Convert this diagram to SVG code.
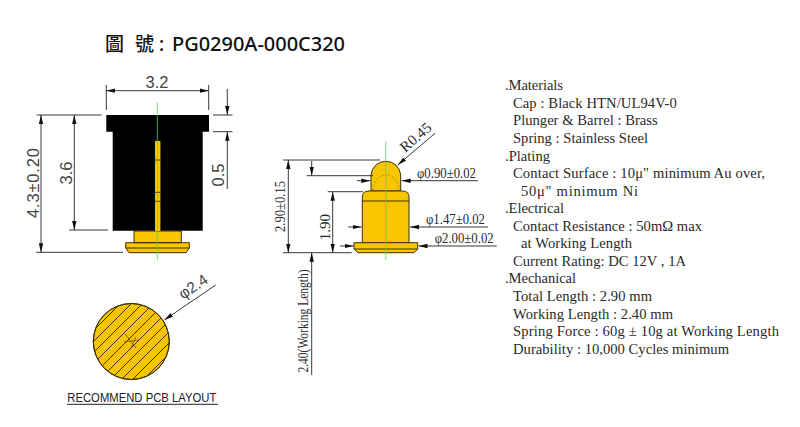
<svg xmlns="http://www.w3.org/2000/svg" width="800" height="427" viewBox="0 0 800 427">
<style>
.dim{stroke:#222;stroke-width:.9;fill:none}
.arr{marker-end:url(#a)}
.arr2{marker-start:url(#a);marker-end:url(#a)}
.gold{fill:#f7c600;stroke:#3d3000;stroke-width:1}
.thin{fill:none;stroke:#3d3000;stroke-width:1}
.ctr{stroke:#66cc66;stroke-width:.8;fill:none}
.cad{font-family:"Liberation Sans",Arial,sans-serif;fill:#444;font-size:16.5px}
.ser{font-family:"Liberation Serif","Times New Roman",serif;fill:#2a2a2a}
.spec{font-size:14.6px;white-space:pre}
.d{font-size:15px}
.title{font-family:"Noto Sans","Noto Sans CJK TC",sans-serif;font-weight:500;font-size:19px;fill:#111}
.cjk{font-family:"Noto Sans CJK TC",sans-serif;font-size:19px;font-weight:500;fill:#111}
</style>
<defs>
<marker id="a" markerUnits="userSpaceOnUse" markerWidth="10" markerHeight="6" refX="9" refY="3" orient="auto-start-reverse"><path d="M0 .8L9 3L0 5.2z" fill="#111"/></marker>
<clipPath id="c"><circle cx="131.3" cy="341.5" r="38"/></clipPath>
</defs>
<g id="title">
<text class="cjk" x="105" y="51">圖</text>
<text class="cjk" x="135" y="51">號</text>
<text class="title" x="159" y="51">:</text>
<text class="title" x="172" y="51" textLength="173" lengthAdjust="spacingAndGlyphs">PG0290A-000C320</text>
</g>
<g id="cap-part">
<path d="M134 231H181.3V242.7H134zM125.7 242.7H189.3V248L186 252.7H129L125.7 248z" class="gold"/>
<path d="M126 248H189" class="thin"/>
<path d="M106.3 115H209V131.7H202.7V230.7H112.7V131.7H106.3z" fill="#000"/>
<rect x="155" y="141" width="5.4" height="90" fill="#f7c600"/>
<path d="M155 160H160.4M155 192.3H160.4M155 201.3H160.4" stroke="#3d3000" stroke-width="1"/>
<path d="M157.3 102.7V260" class="ctr"/>
</g>
<g id="pin-part">
<path d="M371 191V175A14.9 15 0 0 1 400.7 175V191z" class="gold"/>
<path d="M373 190A13 15 0 0 1 399 190" fill="none" stroke="#7a6000" stroke-width=".6" stroke-dasharray="2 1.5"/>
<path d="M362.3 242.7V197Q362.3 191 369 191H402.5Q409 191 409 197V242.7z" class="gold"/>
<path d="M362.3 201H409" class="thin"/>
<path d="M354 242.7H417.7V249L414 252.7H358L354 249z" class="gold"/>
<path d="M354 249H417.7" class="thin"/>
<path d="M385.7 141.7V260" class="ctr"/>
</g>
<g id="pad">
<circle cx="131.3" cy="341.5" r="38" class="gold"/>
<g clip-path="url(#c)" class="thin">
<path d="M90 334L150 274M90 345L161 274M90 356L172 274M90 367L183 274M90 378L194 274M90 389L205 274M90 400L216 274M101 400L227 274M112 400L238 274M123 400L249 274M134 400L260 274"/>
</g>
<path d="M125 334L136 348M124 342L139 340M131 348L136 337" stroke="#3d3000" stroke-width=".6" fill="none"/>
<circle cx="131.3" cy="341.5" r="38" fill="none" stroke="#3d3000" stroke-width="1"/>
</g>
<g id="connectors">
<path class="dim" d="M106.3 85V110M208.7 85V110"/>
<path class="dim arr2" d="M106.3 90.7H208.7"/>
<path class="dim" d="M213 115H232.5M213 131.7H232.5"/>
<path class="dim arr" d="M227.3 89V115"/>
<path class="dim arr" d="M227.3 189V131.7"/>
<path class="dim" d="M36.7 115H101.7M69 230H108M36 252.3H123"/>
<path class="dim arr2" d="M74.3 115V230"/>
<path class="dim arr2" d="M41 115V252.3"/>
<path class="dim" d="M283 160H380M283 252.7H351.7M327.7 191.7H363M306.7 175.7H373"/>
<path class="dim arr2" d="M288.3 160V252.7"/>
<path class="dim arr2" d="M332.7 191.7V252.7"/>
<path class="dim arr" d="M311.7 161V175.7"/>
<path class="dim arr" d="M311.7 375V252.7"/>
<path class="dim arr" d="M357 180.7H370.3"/>
<path class="dim arr" d="M478 180.7H401.7"/>
<path class="dim arr" d="M348.3 227H361.5"/>
<path class="dim arr" d="M488 227H410"/>
<path class="dim arr" d="M340 246H353.5"/>
<path class="dim arr" d="M496.7 246H418.5"/>
<path class="dim arr" d="M435 133.3L397.7 165"/>
<path class="dim arr" d="M215.7 285L164.3 320"/>
<path d="M67 404.3H218" stroke="#222" stroke-width="1"/>
</g>
<g id="dim-labels">
<text class="cad" x="157" y="88" text-anchor="middle">3.2</text>
<text class="cad" transform="translate(224 175) rotate(-90)" text-anchor="middle">0.5</text>
<text class="cad" transform="translate(71.5 173) rotate(-90)" text-anchor="middle">3.6</text>
<text class="cad" transform="translate(38.5 183) rotate(-90)" text-anchor="middle" textLength="70" lengthAdjust="spacing">4.3±0.20</text>
<text class="cad" transform="translate(196 291) rotate(-34)" text-anchor="middle" style="font-size:15.5px">φ2.4</text>
<text class="cad" x="67.3" y="402" textLength="149" lengthAdjust="spacingAndGlyphs" style="font-size:12.5px;fill:#222">RECOMMEND PCB LAYOUT</text>
<text class="ser d" transform="translate(285 206.5) rotate(-90)" text-anchor="middle" textLength="51" lengthAdjust="spacingAndGlyphs">2.90±0.15</text>
<text class="ser d" transform="translate(330 227) rotate(-90)" text-anchor="middle">1.90</text>
<text class="ser" transform="translate(307.5 372.5) rotate(-90)" textLength="103" lengthAdjust="spacingAndGlyphs" font-size="14">2.40(Working Length)</text>
<text class="ser d" transform="translate(419 141) rotate(-41)" text-anchor="middle">R0.45</text>
<text class="ser d" x="417" y="177.5" textLength="59" lengthAdjust="spacingAndGlyphs">φ0.90±0.02</text>
<text class="ser d" x="426" y="224.3" textLength="59" lengthAdjust="spacingAndGlyphs">φ1.47±0.02</text>
<text class="ser d" x="434.7" y="243.3" textLength="59" lengthAdjust="spacingAndGlyphs">φ2.00±0.02</text>
</g>
<g id="specs" class="ser spec">
<text x="505" y="90" textLength="58">.Materials</text>
<text x="513" y="107.7" textLength="163.7">Cap : Black HTN/UL94V-0</text>
<text x="513" y="125.3" textLength="144.7">Plunger &amp; Barrel : Brass</text>
<text x="513" y="143" textLength="135">Spring : Stainless Steel</text>
<text x="505" y="160.5" textLength="45">.Plating</text>
<text x="513" y="178" textLength="252">Contact Surface : 10μ" minimum Au over,</text>
<text x="521" y="195.5" textLength="117">50μ" minimum   Ni</text>
<text x="505" y="213" textLength="59">.Electrical</text>
<text x="513" y="231" textLength="189">Contact Resistance : 50mΩ max</text>
<text x="521" y="248" textLength="111">at Working Length</text>
<text x="513" y="265.5" textLength="173">Current Rating: DC 12V , 1A</text>
<text x="505" y="283" textLength="71">.Mechanical</text>
<text x="513" y="301" textLength="139">Total Length : 2.90 mm</text>
<text x="513" y="318.5" textLength="160">Working Length : 2.40 mm</text>
<text x="513" y="336" textLength="266">Spring Force :  60g ± 10g at Working Length</text>
<text x="513" y="354" textLength="216">Durability : 10,000 Cycles minimum</text>
</g>
</svg>
